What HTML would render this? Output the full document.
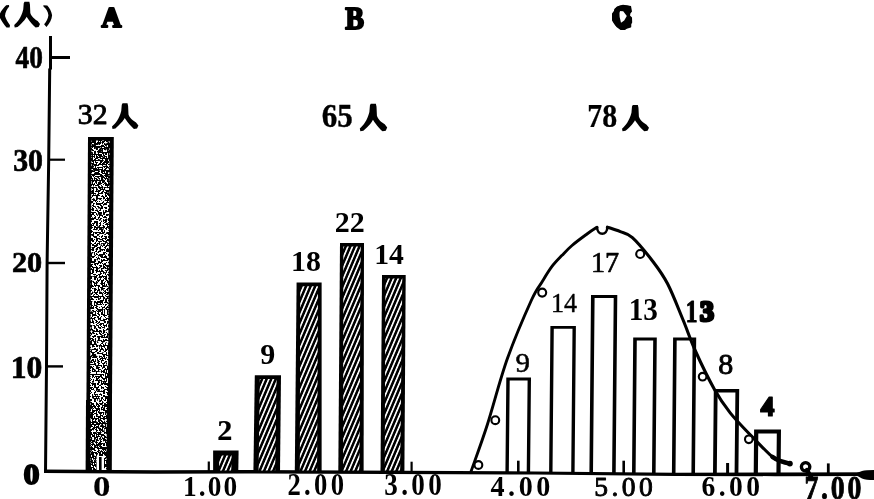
<!DOCTYPE html>
<html><head><meta charset="utf-8"><title>chart</title>
<style>
html,body{margin:0;padding:0;background:#fff;}
body{width:874px;height:499px;overflow:hidden;font-family:"Liberation Serif",serif;}
svg{display:block;position:absolute;left:0;top:0;will-change:transform;}
text{font-family:"Liberation Serif",serif;fill:#000;stroke:#000;stroke-linejoin:round;}
</style></head><body>
<svg width="874" height="499" viewBox="0 0 874 499">
<defs>
<pattern id="hatch" width="4.2" height="10" patternUnits="userSpaceOnUse" patternTransform="rotate(23)">
<rect x="0" y="0" width="4.2" height="10" fill="#000"/>
<rect x="0" y="0" width="1.65" height="10" fill="#fff"/>
</pattern>
<filter id="stip" x="0" y="0" width="100%" height="100%">
<feTurbulence type="fractalNoise" baseFrequency="0.55" numOctaves="1" seed="7" result="n"/>
<feColorMatrix in="n" type="matrix" values="0 0 0 0 0  0 0 0 0 0  0 0 0 0 0  40 0 0 0 -19.3" result="a"/>
<feFlood flood-color="#000"/>
<feComposite in2="a" operator="in"/>
</filter>
<filter id="stip2" x="0" y="0" width="100%" height="100%">
<feTurbulence type="fractalNoise" baseFrequency="0.5" numOctaves="1" seed="23" result="n"/>
<feColorMatrix in="n" type="matrix" values="0 0 0 0 0  0 0 0 0 0  0 0 0 0 0  40 0 0 0 -21" result="a"/>
<feFlood flood-color="#000"/>
<feComposite in2="a" operator="in"/>
</filter>
<path id="ren" d="M0.40 0 L0.587 0 L0.61 0.11 L0.625 0.44 C0.66 0.54 0.72 0.634 0.91 0.75 L1 0.868 L0.947 0.985 L0.83 1 C0.74 0.92 0.62 0.80 0.48 0.58 C0.42 0.70 0.33 0.80 0.13 0.985 L0.02 1 L0 0.906 C0.13 0.78 0.27 0.62 0.35 0.30 L0.37 0.06 Z"/>
</defs>
<rect x="0" y="0" width="874" height="499" fill="#fff"/>

<g fill="none" stroke="#000" stroke-linecap="butt" stroke-linejoin="miter">
<polyline points="50.5,36 50.5,68.5 49.7,69.5 48.7,160 47.1,263 46.5,366 45.5,472.5" stroke-width="3"/>
<polygon points="44,469.60 155,470.15 245,469.90 455,471.00 535,471.45 675,472.85 775,472.45 874,472.30 874,476.10 775,476.15 675,475.95 535,474.55 455,474.20 245,473.50 155,473.65 44,473.00" fill="#000" stroke="none"/>
<path d="M854 473.9 L862 471 Q866 470 874 470 L874 480 Q866 480 862 478.4 Z" fill="#000" stroke="none"/>
<line x1="50" y1="57.5" x2="70" y2="57.5" stroke-width="3"/>
<line x1="48" y1="159.7" x2="65" y2="159.7" stroke-width="2.2"/>
<line x1="47" y1="263" x2="65" y2="263" stroke-width="2.4"/>
<line x1="46" y1="366.4" x2="63" y2="366.4" stroke-width="2.4"/>
<line x1="208.8" y1="461.5" x2="208.8" y2="471" stroke-width="2.2"/>
<line x1="411.6" y1="461.7" x2="411.6" y2="472" stroke-width="2.2"/>
<line x1="518.3" y1="460.7" x2="518.3" y2="472" stroke-width="2.6"/>
<line x1="623.7" y1="460.7" x2="623.7" y2="473" stroke-width="2.6"/>
<line x1="727.6" y1="463" x2="727.6" y2="474" stroke-width="3"/>
<line x1="828.3" y1="463.4" x2="828.3" y2="474" stroke-width="2.8"/>
</g>
<g>
<polygon points="88,137 113.8,137 111.5,471 86,471" fill="#000"/>
<polygon points="91.6,140.5 109.6,140.5 107.4,470 89.6,470" fill="#fff"/>
<polygon points="91.6,140.5 109.6,140.5 107.4,470 89.6,470" fill="#000" filter="url(#stip)"/>
<polygon points="91.6,140.5 109.6,140.5 109.3,185 91.3,185" fill="#000" filter="url(#stip2)"/>
<polygon points="90,405 107.8,405 107.4,470 89.6,470" fill="#000" filter="url(#stip2)"/>
<rect x="96.6" y="456" width="7.4" height="14" fill="#fff"/>
<rect x="99" y="457" width="2.6" height="14" fill="#000"/>
<polygon points="86,400 90.4,400 90.6,471 85.6,471" fill="#000"/>
<polygon points="107,400 112,400 111.6,471 106.4,471" fill="#000"/>
</g>
<polygon points="213.1,450.4 238.6,450.4 238.3,472 213.1,472" fill="#000"/>
<polygon points="219.1,455.4 231.6,455.4 231.3,470.5 219.1,470.5" fill="url(#hatch)"/>
<polygon points="254.8,375.3 281,375.3 280,472 253.4,472" fill="#000"/>
<polygon points="259.8,378.90000000000003 276.6,378.90000000000003 275.2,470.5 258.6,470.5" fill="url(#hatch)"/>
<polygon points="296.6,282.6 321.6,282.6 321.6,472 294.8,472" fill="#000"/>
<polygon points="300.20000000000005,286.20000000000005 318.0,286.20000000000005 317.1,470.5 299.8,470.5" fill="url(#hatch)"/>
<polygon points="340,243 364,243 363.6,472 338.3,472" fill="#000"/>
<polygon points="343.3,246.6 360.7,246.6 359.40000000000003,470.5 343.1,470.5" fill="url(#hatch)"/>
<polygon points="382,275 405.7,275 404.4,472 380.5,472" fill="#000"/>
<polygon points="385.4,278.6 402.3,278.6 400.2,470.5 384.7,470.5" fill="url(#hatch)"/>
<path d="M506.3 377.6 L531 377.6 L530.1 473.5 L526.7 473.5 L527.6 380.40000000000003 L509.7 380.40000000000003 L508.8 473.5 L505.4 473.5 Z" fill="#000"/>
<path d="M550.4 326 L575.9 326 L574.6 473.5 L571.2 473.5 L572.5 328.8 L553.8 328.8 L552.5 473.5 L549.1 473.5 Z" fill="#000"/>
<path d="M591 295 L617.3 295 L615.7 473.5 L612.1 473.5 L613.6999999999999 298.0 L594.6 298.0 L593.0 473.5 L589.4 473.5 Z" fill="#000"/>
<path d="M633.2 337.6 L656.8 337.6 L655.6 473.5 L652.0 473.5 L653.1999999999999 340.6 L636.8000000000001 340.6 L635.6 473.5 L632.0 473.5 Z" fill="#000"/>
<path d="M673.1 337.6 L696.2 337.6 L695.0 473.5 L691.4 473.5 L692.6 340.6 L676.7 340.6 L675.5 473.5 L671.9 473.5 Z" fill="#000"/>
<path d="M713.8 389 L739.2 389 L738.4 473.5 L734.6 473.5 L735.4000000000001 392.4 L717.5999999999999 392.4 L716.8 473.5 L713.0 473.5 Z" fill="#000"/>
<path d="M754.1 429.6 L781 429.6 L780.6 473.5 L776.4 473.5 L776.8 433.6 L758.3000000000001 433.6 L757.9 473.5 L753.7 473.5 Z" fill="#000"/>
<g fill="none" stroke="#000" stroke-linecap="round" stroke-linejoin="round">
<path d="M471.2 471.0 C473.9 463.2 481.4 443.2 487.4 424.5 C493.4 405.8 500.0 379.4 507.4 358.6 C514.8 337.9 525.7 312.8 531.5 300.0 C537.3 287.2 538.6 287.6 542.0 282.0 C545.4 276.4 548.5 271.1 551.8 266.7 C555.1 262.3 558.4 259.1 561.8 255.6 C565.2 252.1 567.8 249.1 572.0 245.5 C576.2 241.9 582.8 237.1 587.0 234.0 C591.2 230.9 595.3 228.3 597.0 227.2" stroke-width="2.9"/>
<path d="M607.4 227.2 C609.5 227.9 616.1 229.9 620.3 231.6 C624.5 233.3 626.9 232.6 632.4 237.6 C637.9 242.6 647.2 254.0 653.1 261.7 C659.0 269.4 662.6 274.1 667.6 283.8 C672.6 293.5 678.5 308.9 683.1 320.0 C687.7 331.1 690.0 338.9 695.2 350.5 C700.4 362.1 708.7 379.1 714.5 389.5 C720.3 399.9 724.3 405.4 730.2 412.9 C736.1 420.4 743.0 427.2 750.0 434.5 C757.0 441.8 766.9 452.3 772.4 456.9 C777.9 461.5 779.9 460.9 782.8 462.0 C785.7 463.1 788.6 463.3 789.7 463.6" stroke-width="3.1"/>
<path d="M597 227.2 C597.5 236 607 236 607.4 227.2" stroke-width="2.6"/>
</g>
<path d="M772.4 456.9 C776 459.5 782 462 789.7 463.6" fill="none" stroke="#000" stroke-width="4.4" stroke-linecap="round"/>
<circle cx="789.9" cy="463.6" r="2.9" fill="#000"/>
<g fill="#fff" stroke="#000" stroke-width="2.1">
<circle cx="478.4" cy="465" r="3.9"/>
<circle cx="495.3" cy="420.2" r="3.9"/>
<circle cx="542.2" cy="292.6" r="4"/>
<circle cx="640.2" cy="254" r="4"/>
<circle cx="702.6" cy="376.7" r="3.8"/>
<circle cx="748.8" cy="439.3" r="3.8"/>
<circle cx="805.6" cy="466.8" r="3.9"/>
</g>
<circle cx="805.6" cy="466.8" r="4.2" fill="none" stroke="#000" stroke-width="3.4"/>
<path d="M807 470 L811.5 478" stroke="#000" stroke-width="4.4" fill="none" stroke-linecap="round"/>
<text transform="matrix(0.6830 0 0 0.7645 15.60 68.18)" font-size="40" font-weight="bold" stroke-width="0.8">40</text>
<text transform="matrix(0.7454 0 0 0.7834 13.14 170.72)" font-size="40" font-weight="bold" stroke-width="0.9">30</text>
<text transform="matrix(0.7560 0 0 0.7617 11.93 272.15)" font-size="40" font-weight="bold" stroke-width="0.9">20</text>
<text transform="matrix(0.7895 0 0 0.8149 10.63 377.88)" font-size="40" font-weight="bold" stroke-width="0.9">10</text>
<text transform="matrix(0.8021 0 0 0.7568 23.58 484.39)" font-size="40" font-weight="bold" stroke-width="2.4">0</text>
<text transform="matrix(0.8706 0 0 0.7519 92.99 495.92)" font-size="40" font-weight="bold" stroke-width="0.2">0</text>
<text transform="matrix(0.6841 0 0 0.7279 183.11 496.42)" font-size="40" font-weight="bold" stroke-width="0" letter-spacing="3">1.00</text>
<text transform="matrix(0.6659 0 0 0.7836 287.43 495.37)" font-size="40" font-weight="bold" stroke-width="0" letter-spacing="5">2.00</text>
<text transform="matrix(0.6780 0 0 0.7836 384.22 495.37)" font-size="40" font-weight="bold" stroke-width="0" letter-spacing="5">3.00</text>
<text transform="matrix(0.7031 0 0 0.7537 490.52 496.40)" font-size="40" font-weight="bold" stroke-width="0" letter-spacing="5">4.00</text>
<text transform="matrix(0.6885 0 0 0.6904 594.20 495.80)" font-size="40" font-weight="normal" stroke-width="1.3" letter-spacing="5">5.00</text>
<text transform="matrix(0.6881 0 0 0.7463 701.47 496.40)" font-size="40" font-weight="bold" stroke-width="0" letter-spacing="5">6.00</text>
<text transform="matrix(0.6949 0 0 0.8561 804.38 499.49)" font-size="40" font-weight="bold" stroke-width="1.0" letter-spacing="4">7.00</text>
<text transform="matrix(0.6903 0 0 0.7279 101.56 27.01)" font-size="40" font-weight="bold" stroke-width="3.0">A</text>
<text transform="matrix(0.7044 0 0 0.8147 345.25 28.94)" font-size="40" font-weight="bold" stroke-width="2.6">B</text>
<text transform="matrix(0.7115 0 0 0.8275 612.29 28.34)" font-size="40" font-weight="bold" stroke-width="2.0">C</text>
<text transform="matrix(0.7446 0 0 0.7246 77.86 123.58)" font-size="40" font-weight="normal" stroke-width="1.2">32</text>
<text transform="matrix(0.7745 0 0 0.8205 321.86 126.94)" font-size="40" font-weight="bold" stroke-width="0.5">65</text>
<text transform="matrix(0.7466 0 0 0.8266 587.22 127.01)" font-size="40" font-weight="bold" stroke-width="0.3">78</text>
<text transform="matrix(0.7500 0 0 0.7386 334.80 231.60)" font-size="40" font-weight="bold" stroke-width="0.0">22</text>
<text transform="matrix(0.7472 0 0 0.7574 291.01 271.39)" font-size="40" font-weight="bold" stroke-width="0.0">18</text>
<text transform="matrix(0.7417 0 0 0.7576 374.23 264.00)" font-size="40" font-weight="bold" stroke-width="0.0">14</text>
<text transform="matrix(0.7500 0 0 0.7388 260.30 363.71)" font-size="40" font-weight="bold" stroke-width="0.0">9</text>
<text transform="matrix(0.7544 0 0 0.7116 217.21 439.81)" font-size="40" font-weight="bold" stroke-width="0.3">2</text>
<text transform="matrix(0.7044 0 0 0.7117 590.92 271.54)" font-size="40" font-weight="normal" stroke-width="1.0">17</text>
<text transform="matrix(0.6519 0 0 0.6704 550.95 312.20)" font-size="40" font-weight="normal" stroke-width="0.6">14</text>
<text transform="matrix(0.7222 0 0 0.6691 515.62 371.96)" font-size="40" font-weight="normal" stroke-width="0.8">9</text>
<text transform="matrix(0.7303 0 0 0.7684 628.76 320.49)" font-size="40" font-weight="bold" stroke-width="0">13</text>
<text transform="matrix(0.5854 0 0 0.7750 685.80 321.78)" font-size="40" font-weight="bold" stroke-width="1.6">1</text>
<text transform="matrix(0.6959 0 0 0.7157 699.95 320.52)" font-size="40" font-weight="bold" stroke-width="4.5">3</text>
<text transform="matrix(0.7500 0 0 0.7571 718.25 374.44)" font-size="40" font-weight="normal" stroke-width="1.2">8</text>
<text transform="matrix(0.7206 0 0 0.7174 760.19 416.33)" font-size="40" font-weight="bold" stroke-width="1.6">4</text>
<path d="M110 9 L105.5 21 L114.5 21 Z" fill="#000"/>
<path d="M620 5.5 L623 4.8 L631 6 L632 11.5 L630.5 13.2 L630 15.6 L632 17.5 L632.2 22.5 L629.5 26.5 L625 30 L620.5 30 L616.5 27 L613.5 23 L612 20.5 L612 13.5 L614 11 L614.3 9 L617 6.5 Z M619 10.9 L619.7 17.3 L621 22.8 L624.2 20.5 L626.8 16 L623.2 11.2 Z" fill="#000" fill-rule="evenodd"/>
<path d="M767.8 399.5 L761.5 411 L768.8 411 Z" fill="#000"/>
<use href="#ren" transform="matrix(25.80 0 0 25.80 14.20 1.70)"/>
<use href="#ren" transform="matrix(26.40 0 0 25.70 112.00 103.20)"/>
<use href="#ren" transform="matrix(27.40 0 0 27.50 359.80 103.70)"/>
<use href="#ren" transform="matrix(27.00 0 0 26.30 622.00 104.90)"/>
<path d="M9 5 L6.2 5.3 C3.5 8 1 11 0 13.5 L0 18 C1.5 21 4 24.5 6.5 27.6 L9.6 27.6 L10 25.2 C8 22.5 5.8 19 5 16 C5.2 12.5 7 9 9.2 6.6 Z" fill="#000"/>
<path d="M43.3 5.2 L47.3 5.6 C49.5 8 51.5 11.5 52.1 15.2 C51.8 19.5 49.5 23.5 46.5 26.9 L44.1 24.2 C46.5 21.5 48 18.5 48.4 15.2 C48 11.5 46 8.5 43.6 6.8 Z" fill="#000"/>
</svg></body></html>
